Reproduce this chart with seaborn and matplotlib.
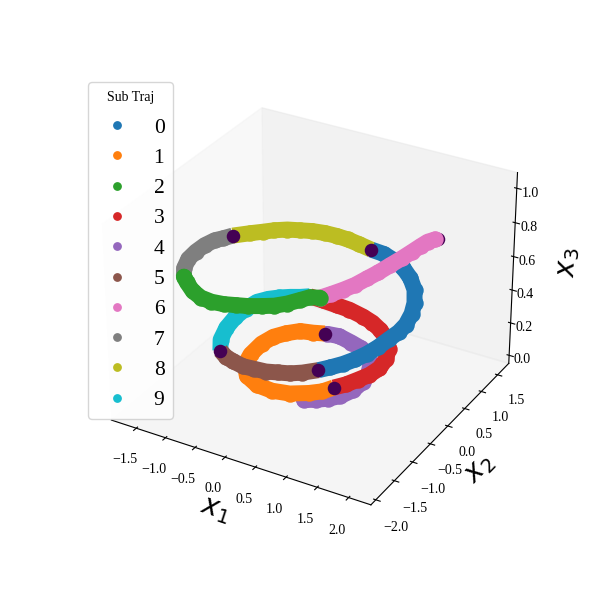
import matplotlib
matplotlib.use("Agg")
import matplotlib.pyplot as plt
from matplotlib.lines import Line2D
import seaborn as sns

# Sub trajectories, x1 / x2 / x3 values
x1_0 = [.84, .96, 1.08, 1.18, 1.26, 1.32, 1.36, 1.40, 1.40, 1.35, 1.26, 1.10, .91, .70, .49, .28, .08]
x2_0 = [-1.03, -.91, -.77, -.61, -.43, -.23, .01, .22, .42, .67, .91, 1.19, 1.40, 1.56, 1.65, 1.70, 1.68]
x3_0 = [.33, .335, .34, .345, .35, .355, .36, .365, .37, .38, .39, .40, .41, .42, .43, .44, .45]

x1_1 = [-.24, -.39, -.57, -.71, -.81, -.85, -.82, -.73, -.53, -.26, .02, .29, .53, .69, .79]
x2_1 = [.89, .81, .74, .57, .38, .12, -.22, -.51, -.76, -.91, -.95, -.91, -.79, -.68, -.54]
x3_1 = [.05, .055, .06, .065, .07, .075, .08, .085, .09, .095, .10, .105, .11, .115, .12]

x1_2 = [-1.37, -1.20, -.96, -.72, -.49, -.27, -.07, .13, .33, .51, .67, .81, .93, 1.10]
x2_2 = [-1.05, -1.22, -1.43, -1.58, -1.66, -1.69, -1.69, -1.69, -1.66, -1.63, -1.56, -1.46, -1.39, -1.42]
x3_2 = [.65, .665, .68, .695, .71, .725, .74, .755, .77, .785, .80, .815, .83, .85]

x1_3 = [.79, .91, 1.01, 1.10, 1.15, 1.12, 1.03, .88, .68, .49, .29, .04, -.18, -.42, -.63]
x2_3 = [-.54, -.41, -.24, -.08, .12, .36, .59, .79, .94, 1.04, 1.10, 1.13, 1.13, 1.13, 1.10]
x3_3 = [.12, .125, .13, .135, .14, .145, .15, .155, .16, .165, .17, .18, .185, .19, .20]

x1_4 = [.32, .47, .62, .75, .84, .86, .83, .74, .59, .41, .22, -.02, -.20]
x2_4 = [-.58, -.51, -.42, -.29, -.09, .15, .36, .57, .74, .84, .89, .94, .90]
x3_4 = [0, .004, .008, .012, .016, .02, .025, .03, .035, .04, .043, .047, .05]

x1_5 = [-.84, -.66, -.48, -.27, -.08, .12, .30, .48, .64, .84]
x2_5 = [-.96, -1.09, -1.17, -1.24, -1.25, -1.26, -1.23, -1.20, -1.13, -1.03]
x3_5 = [.25, .258, .266, .274, .282, .29, .298, .306, .314, .33]

x1_6 = [1.10, 1.21, 1.33, 1.44, 1.53, 1.62, 1.70, 1.78, 1.85, 1.90, 1.95, 2.02]
x2_6 = [-1.42, -1.30, -1.19, -1.07, -.91, -.76, -.58, -.41, -.25, -.11, .00, .08]
x3_6 = [.85, .86, .875, .89, .905, .92, .935, .95, .965, .975, .985, .99]

x1_7 = [-1.60, -1.65, -1.70, -1.72, -1.70, -1.65, -1.53, -1.37]
x2_7 = [.53, .36, .21, -.02, -.27, -.53, -.81, -1.05]
x3_7 = [.58, .59, .60, .61, .62, .63, .64, .65]

x1_8 = [.08, -.13, -.33, -.51, -.68, -.85, -1.00, -1.15, -1.28, -1.38, -1.47, -1.60]
x2_8 = [1.68, 1.69, 1.69, 1.66, 1.61, 1.53, 1.42, 1.31, 1.16, 1.00, .79, .53]
x3_8 = [.45, .46, .47, .48, .49, .50, .51, .52, .53, .54, .56, .58]

x1_9 = [-.63, -.73, -.85, -.97, -1.08, -1.17, -1.20, -1.19, -1.13, -1.01, -.84]
x2_9 = [1.10, 1.00, .91, .80, .67, .50, .24, -.05, -.37, -.70, -.96]
x3_9 = [.20, .205, .21, .215, .22, .225, .23, .235, .24, .245, .25]

# boundary points between sub trajectories
under_x1 = [-.63, -1.37, 2.05]
under_x2 = [1.10, -1.05, .10]
under_x3 = [.20, .65, .99]
over_x1 = [-.24, .79, -.84, .84, .08, -1.60]
over_x2 = [.89, -.54, -.96, -1.03, 1.68, .53]
over_x3 = [.05, .12, .25, .33, .45, .58]

sub_trajs = [(x1_0, x2_0, x3_0), (x1_1, x2_1, x3_1), (x1_2, x2_2, x3_2), (x1_3, x2_3, x3_3),
             (x1_4, x2_4, x3_4), (x1_5, x2_5, x3_5), (x1_6, x2_6, x3_6), (x1_7, x2_7, x3_7),
             (x1_8, x2_8, x3_8), (x1_9, x2_9, x3_9)]
draw_order = [4, 3, 9, 1, 5, 0, 7, 8, 6, 2]
rounded_ends = [2, 4, 6]

x_ticks = [-1.5, -1.0, -0.5, 0.0, 0.5, 1.0, 1.5, 2.0]
y_ticks = [-2.0, -1.5, -1.0, -0.5, 0.0, 0.5, 1.0, 1.5]
z_ticks = [0.0, 0.2, 0.4, 0.6, 0.8, 1.0]

plt.rcParams['font.family'] = ['Liberation Serif', 'DejaVu Sans']
plt.rcParams['mathtext.fontset'] = 'dejavusans'

colors = sns.color_palette("tab10")
dark = "#440154"

fig = plt.figure(figsize=(6, 6), dpi=100)
ax = fig.add_subplot(projection='3d')
ax.computed_zorder = False

for rank, idx in enumerate(draw_order):
    xs, ys, zs = sub_trajs[idx]
    # the band is so dense in the original that it reads as a solid stroke
    cap = 'round' if idx in rounded_ends else 'butt'
    ax.plot(xs, ys, zs, color=colors[idx], lw=11.5, solid_capstyle=cap, solid_joinstyle='round', zorder=10 + rank)
    # end dots of a band would show round the boundary points, so leave them out
    keep = slice(None) if idx in rounded_ends else slice(1, -1)
    ax.scatter(xs[keep], ys[keep], zs[keep], s=140, color=colors[idx], depthshade=False, linewidths=0, zorder=10 + rank)
ax.scatter(under_x1, under_x2, under_x3, s=95, color=dark, depthshade=False, linewidths=0, zorder=17.5)
ax.scatter(over_x1, over_x2, over_x3, s=95, color=dark, depthshade=False, linewidths=0, zorder=30)

ax.set_xlim(-1.93, 2.35)
ax.set_ylim(-2.13, 1.85)
ax.set_zlim(-0.05, 1.09)
ax.set_xticks(x_ticks)
ax.set_yticks(y_ticks)
ax.set_zticks(z_ticks)
ax.tick_params(labelsize=10)
ax.tick_params(axis='x', pad=5)
ax.tick_params(axis='y', pad=5)
ax.tick_params(axis='z', pad=-2)
ax.grid(False)
ax.set_xlabel('$x_1$', fontsize=20)
ax.set_ylabel('$x_2$', fontsize=20)
ax.set_zlabel('$x_3$', fontsize=20)

handles = [Line2D([], [], linestyle='', marker='o', markersize=5.3, color=colors[i]) for i in range(10)]
labels = [str(i) for i in range(10)]
leg = ax.legend(handles, labels, title='Sub Traj', title_fontsize=10, fontsize=15.5,
                loc='upper left', bbox_to_anchor=(88 / 600, 1 - 82 / 600), bbox_transform=fig.transFigure,
                borderaxespad=0, labelspacing=0.475, handlelength=1.85, handletextpad=0.8)
leg._legend_box.sep = 10
leg.set_zorder(100)

plt.savefig('out.png', dpi=100)
plt.close()
